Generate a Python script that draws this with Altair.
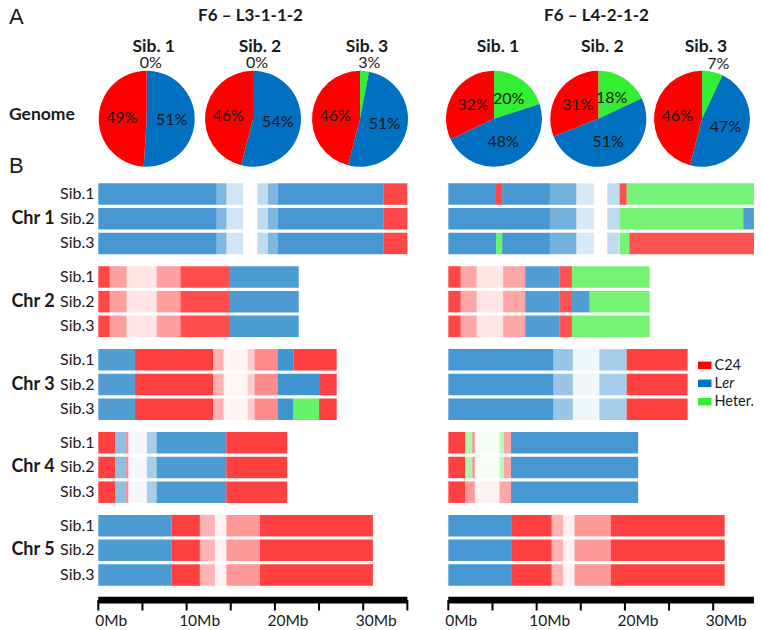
import math
import altair as alt
import pandas as pd

# ---------------- data ----------------
GENOTYPES = ["C24", "Ler", "Heter."]
GENO_COLORS = ["#FF0000", "#0070C0", "#33EE33"]
CODE = {"C": "C24", "L": "Ler", "H": "Heter."}

LINE_NAMES = ["F6 – L3-1-1-2", "F6 – L4-2-1-2"]
SIB_TITLES = ["Sib. 1", "Sib. 2", "Sib. 3"]
SIB_ROWS = ["Sib.1", "Sib.2", "Sib.3"]

# genome share in % (clockwise from 12 o'clock: Heter., Ler, C24)
PIE_HETER = [[0, 0, 3], [20, 18, 7]]
PIE_LER = [[51, 54, 51], [48, 51, 47]]
PIE_C24 = [[49, 46, 46], [32, 31, 46]]

CHROMS = ["Chr 1", "Chr 2", "Chr 3", "Chr 4", "Chr 5"]
CHR_LEN = [[35.0, 22.7, 27.0, 21.4, 31.1], [35.0, 22.8, 27.1, 21.5, 31.3]]

# genotype blocks per line / chromosome / sibling: (block end in Mb, genotype)
BLOCKS = [
    [  # F6 - L3-1-1-2
        [[(32.3, "L"), (35.0, "C")]] * 3,
        [[(14.9, "C"), (22.7, "L")]] * 3,
        [
            [(4.15, "L"), (20.3, "C"), (22.1, "L"), (27.0, "C")],
            [(4.15, "L"), (20.3, "C"), (25.0, "L"), (27.0, "C")],
            [(4.15, "L"), (20.3, "C"), (22.1, "L"), (25.0, "H"), (27.0, "C")],
        ],
        [[(1.9, "C"), (3.1, "L"), (3.4, "C"), (14.5, "L"), (21.4, "C")]] * 3,
        [[(8.3, "L"), (31.1, "C")]] * 3,
    ],
    [  # F6 - L4-2-1-2
        [
            [(5.4, "L"), (6.1, "C"), (19.4, "L"), (20.2, "C"), (35.0, "H")],
            [(19.4, "L"), (33.4, "H"), (35.0, "L")],
            [(5.4, "L"), (6.1, "H"), (19.3, "L"), (20.5, "H"), (35.0, "C")],
        ],
        [
            [(8.7, "C"), (12.6, "L"), (14.0, "C"), (22.8, "H")],
            [(8.7, "C"), (12.6, "L"), (14.0, "C"), (16.0, "L"), (22.8, "H")],
            [(8.7, "C"), (12.6, "L"), (14.0, "C"), (22.8, "H")],
        ],
        [[(20.2, "L"), (27.1, "C")]] * 3,
        [
            [(1.9, "C"), (2.7, "H"), (3.0, "C"), (6.3, "H"), (7.1, "C"), (21.5, "L")],
            [(1.9, "C"), (2.7, "H"), (3.0, "C"), (6.3, "H"), (7.1, "C"), (21.5, "L")],
            [(7.1, "C"), (21.5, "L")],
        ],
        [[(7.2, "L"), (31.3, "C")]] * 3,
    ],
]

# marker density along each chromosome: (segment end in Mb, fill strength)
DENSITY = [
    [
        [(13.4, 0.72), (14.5, 0.5), (16.4, 0.18), (18.0, 0.0), (19.2, 0.25), (20.3, 0.5), (35.0, 0.72)],
        [(1.3, 0.72), (3.2, 0.38), (6.6, 0.1), (9.3, 0.38), (22.7, 0.7)],
        [(4.15, 0.68), (13.0, 0.75), (14.2, 0.3), (16.9, 0.04), (17.7, 0.2), (20.3, 0.45), (27.0, 0.75)],
        [(1.9, 0.75), (3.4, 0.45), (5.5, 0.05), (6.6, 0.35), (14.5, 0.7), (21.4, 0.75)],
        [(8.3, 0.7), (11.5, 0.75), (13.2, 0.3), (14.5, 0.05), (18.3, 0.4), (31.1, 0.75)],
    ],
    [
        [(11.5, 0.72), (14.5, 0.55), (16.5, 0.15), (18.0, 0.0), (19.4, 0.25), (35.0, 0.68)],
        [(1.4, 0.72), (3.2, 0.35), (6.2, 0.1), (8.7, 0.35), (22.8, 0.68)],
        [(11.9, 0.72), (14.1, 0.4), (17.1, 0.06), (20.2, 0.35), (27.1, 0.75)],
        [(1.9, 0.75), (3.0, 0.4), (5.8, 0.05), (7.1, 0.35), (21.5, 0.72)],
        [(7.2, 0.72), (11.7, 0.75), (13.0, 0.3), (14.3, 0.05), (18.4, 0.4), (31.3, 0.75)],
    ],
]

SCALE_TICKS = [0, 5, 10, 15, 20, 25, 30, 35]
SCALE_LABELS = [(0, "0Mb"), (10, "10Mb"), (20, "20Mb"), (30, "30Mb")]

# ---------------- layout ----------------
W, H = 746, 622
ORIGIN_PX = 98.3          # page x of 0 Mb (left panel)
PX_PER_MB = 8.83
RIGHT_OFFSET = 39.64      # Mb offset of right panel
FONT = "Lato"
TXT = "#1a1a1a"


def X(page_x):
    return (page_x - ORIGIN_PX) / PX_PER_MB


def Y(page_y):
    return page_y - 8


XS = alt.Scale(domain=[X(8), X(8 + W)], nice=False, zero=False)
YS = alt.Scale(domain=[0, H], reverse=True, nice=False, zero=False)
CS = alt.Scale(domain=GENOTYPES, range=GENO_COLORS)
THS = alt.Scale(domain=[0, 100], range=[0, 2 * math.pi], zero=False, nice=False)

BLOCK_TOP = [183.3 + 82.9 * c for c in range(5)]
ROW_PITCH, ROW_H = 24.7, 21.5
OFFSETS = [0.0, RIGHT_OFFSET]

# ---------------- tracks ----------------
rows = []
for li in range(2):
    off = OFFSETS[li]
    for ci in range(5):
        dens, s = [], 0.0
        for e, o in DENSITY[li][ci]:
            dens.append((s, e, o))
            s = e
        for si in range(3):
            top = BLOCK_TOP[ci] + ROW_PITCH * si
            s = 0.0
            for e, g in BLOCKS[li][ci][si]:
                for a, b, o in dens:
                    lo, hi = max(s, a), min(e, b)
                    if hi > lo:
                        rows.append(dict(x0=off + lo, x1=off + hi, y0=Y(top), y1=Y(top + ROW_H),
                                         geno=CODE[g], op=o))
                s = e
tracks_df = pd.DataFrame(rows)

tracks = alt.Chart(tracks_df).mark_rect().encode(
    x=alt.X("x0:Q", scale=XS, axis=None), x2="x1:Q",
    y=alt.Y("y0:Q", scale=YS, axis=None), y2="y1:Q",
    color=alt.Color("geno:N", scale=CS, legend=None),
    opacity=alt.Opacity("op:Q", scale=None),
)


def tlayer(df, size, weight="normal", align="center", style="normal", dx=0, font=FONT, color=TXT,
           baseline="middle"):
    return alt.Chart(df).mark_text(fontSize=size, fontWeight=weight, align=align, baseline=baseline,
                                   fontStyle=style, dx=dx, font=font, color=color).encode(
        x=alt.X("x:Q", scale=XS, axis=None), y=alt.Y("y:Q", scale=YS, axis=None), text="t:N")


chr_lab = tlayer(pd.DataFrame([dict(x=X(33), y=Y(BLOCK_TOP[c] + ROW_PITCH + ROW_H / 2), t=CHROMS[c])
                               for c in range(5)]), 18, weight="bold")
sib_lab = tlayer(pd.DataFrame([dict(x=X(94.5), y=Y(BLOCK_TOP[c] + ROW_PITCH * s + ROW_H / 2), t=SIB_ROWS[s])
                               for c in range(5) for s in range(3)]), 16, align="right")

# ---------------- scale bars ----------------
bar_df = pd.DataFrame([dict(x0=off, x1=off + 35, y0=Y(596.8), y1=Y(603.4)) for off in OFFSETS])
bars = alt.Chart(bar_df).mark_rect(color="black").encode(
    x=alt.X("x0:Q", scale=XS, axis=None), x2="x1:Q",
    y=alt.Y("y0:Q", scale=YS, axis=None), y2="y1:Q")
tick_df = pd.DataFrame([dict(x=off + t, y0=Y(600), y1=Y(610.5)) for off in OFFSETS for t in SCALE_TICKS])
ticks = alt.Chart(tick_df).mark_rule(color="black", strokeWidth=2).encode(
    x=alt.X("x:Q", scale=XS, axis=None), y=alt.Y("y0:Q", scale=YS, axis=None), y2="y1:Q")
scale_lab = tlayer(pd.DataFrame([dict(x=off + v, y=Y(621), t=t) for off in OFFSETS for v, t in SCALE_LABELS]),
                   15.5, dx=13)

# ---------------- pies ----------------
PIE_CX = [[146.7, 253.0, 360.0], [494.0, 598.3, 702.0]]
PIE_CY = 118.8
pie_rows, lab_in, lab_out = [], [], []
for li in range(2):
    for si in range(3):
        vals = [("Heter.", PIE_HETER[li][si]), ("Ler", PIE_LER[li][si]), ("C24", PIE_C24[li][si])]
        s = 0
        for g, v in vals:
            d = dict(x=X(PIE_CX[li][si]), y=Y(PIE_CY), start=s, end=s + v, mid=s + v / 2,
                     geno=g, t=f"{v}%")
            pie_rows.append(d)
            if g == "Heter." and v < 10:
                lab_out.append(d)
            else:
                lab_in.append(d)
            s += v
pie_df = pd.DataFrame(pie_rows)

pies = alt.Chart(pie_df).mark_arc(radius=48).encode(
    x=alt.X("x:Q", scale=XS, axis=None), y=alt.Y("y:Q", scale=YS, axis=None),
    theta=alt.Theta("start:Q", scale=THS, stack=None), theta2="end:Q",
    color=alt.Color("geno:N", scale=CS, legend=None),
)


def pie_text(df, r, dx):
    return alt.Chart(pd.DataFrame(df)).mark_text(radius=r, fontSize=16, font=FONT, color=TXT,
                                                 baseline="middle", align="center", dx=dx).encode(
        x=alt.X("x:Q", scale=XS, axis=None), y=alt.Y("y:Q", scale=YS, axis=None),
        theta=alt.Theta("mid:Q", scale=THS, stack=None), text="t:N")


pie_in = pie_text(lab_in, 25, 0)
pie_out = pie_text(lab_out, 56, 4)

sib_titles = tlayer(pd.DataFrame([dict(x=X(PIE_CX[li][si] + (7 if li == 0 else 4)), y=Y(52),
                                       t=SIB_TITLES[si]) for li in range(2) for si in range(3)]),
                    17.5, weight="bold", baseline="alphabetic")
line_titles = tlayer(pd.DataFrame([dict(x=X(250.5), y=Y(21), t=LINE_NAMES[0]),
                                   dict(x=X(596.5), y=Y(21), t=LINE_NAMES[1])]), 17, weight="bold",
                     baseline="alphabetic")
genome = tlayer(pd.DataFrame([dict(x=X(9), y=Y(114.5), t="Genome")]), 17.5, weight="bold", align="left")
panel_lab = tlayer(pd.DataFrame([dict(x=X(9), y=Y(23.5), t="A"), dict(x=X(9), y=Y(173), t="B")]),
                   22, font="Liberation Sans", align="left", baseline="alphabetic")

# ---------------- legend ----------------
LEG_TOPS = [361.6, 379.6, 398.0]
leg_df = pd.DataFrame([dict(x0=X(698), x1=X(711.5), y0=Y(t), y1=Y(t + 7.5), geno=g)
                       for t, g in zip(LEG_TOPS, GENOTYPES)])
leg_rects = alt.Chart(leg_df).mark_rect().encode(
    x=alt.X("x0:Q", scale=XS, axis=None), x2="x1:Q",
    y=alt.Y("y0:Q", scale=YS, axis=None), y2="y1:Q",
    color=alt.Color("geno:N", scale=CS, legend=None))
leg_txt = tlayer(pd.DataFrame([dict(x=X(714.5), y=Y(LEG_TOPS[0] + 4), t="C24"),
                               dict(x=X(714.5), y=Y(LEG_TOPS[1] + 4), t="L"),
                               dict(x=X(714.5), y=Y(LEG_TOPS[2] + 4), t="Heter.")]), 14.5, align="left")
leg_it = tlayer(pd.DataFrame([dict(x=X(722.3), y=Y(LEG_TOPS[1] + 4), t="er")]), 14.5, align="left",
                style="italic")

chart = alt.layer(
    tracks, chr_lab, sib_lab, bars, ticks, scale_lab,
    pies, pie_in, pie_out, sib_titles, line_titles, genome, panel_lab,
    leg_rects, leg_txt, leg_it,
).properties(
    width=W, height=H, padding=0, autosize=alt.AutoSizeParams(type="none")
).configure_view(stroke=None)

chart.save("out.html", embed_options={"renderer": "svg", "actions": False})
